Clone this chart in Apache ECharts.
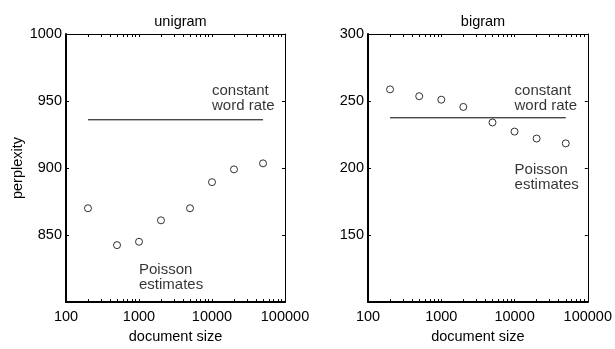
<!DOCTYPE html>
<html><head><meta charset="utf-8">
<script src="https://cdn.jsdelivr.net/npm/echarts@6/dist/echarts.min.js"></script>
<style>html,body{margin:0;padding:0;background:#fff}#c{width:615px;height:349px}</style>
</head><body><div id="c"></div>
<script>
const docSizes = [200, 500, 1000, 2000, 5000, 10000, 20000, 50000];
const unigramPoisson = [870, 842.5, 845, 861, 870, 889.5, 899, 903.5];
const unigramConstant = 936;
const bigramPoisson = [258.7, 253.6, 251, 245.6, 234, 227.2, 222, 218.4];
const bigramConstant = 237.5;
const xTickLabels = [100, 1000, 10000, 100000];
const unigramYTicks = [800, 850, 900, 950, 1000];
const bigramYTicks = [100, 150, 200, 250, 300];
const panelTitles = ['unigram', 'bigram'];
const xName = 'document size';
const yName = 'perplexity';
const noteConstant = 'constant\nword rate';
const notePoisson = 'Poisson\nestimates';
// annotation anchor points (data coordinates)
const unigramNotes = [[10000, 952, noteConstant], [1000, 818.5, notePoisson]];
const bigramNotes = [[10000, 252, noteConstant], [10000, 193, notePoisson]];

const FONT = 'Liberation Sans, Arial, Helvetica, sans-serif';
const minorVals = [];
for (let d = 100; d < 100000; d *= 10) for (let k = 1; k < 10; k++) minorVals.push(k * d);
minorVals.push(100000);

function xAxes(gi) {
  const base = {
    type: 'log', logBase: 10, gridIndex: gi,
    min: xTickLabels[0], max: xTickLabels[xTickLabels.length - 1],
    splitLine: {show: false},
    axisTick: {show: true, inside: true, length: 3, customValues: minorVals, lineStyle: {color: '#000', width: 1}},
  };
  return [
    Object.assign({}, base, {
      position: 'bottom',
      axisLine: {show: true, onZero: false, lineStyle: {color: '#000', width: 2}},
      axisLabel: {show: true, customValues: xTickLabels, color: '#000', fontFamily: FONT, fontSize: 14.5, margin: 7,
        formatter: v => String(Math.round(v))},
      name: xName, nameLocation: 'middle', nameGap: 22,
      nameTextStyle: {color: '#000', fontFamily: FONT, fontSize: 14.5}
    }),
    Object.assign({}, base, {
      position: 'top',
      axisLine: {show: true, onZero: false, lineStyle: {color: '#000', width: 1}},
      axisLabel: {show: false}
    })
  ];
}
function yAxes(gi, ticks, withName) {
  const base = {
    type: 'value', gridIndex: gi, min: ticks[0], max: ticks[ticks.length - 1],
    interval: ticks[1] - ticks[0],
    splitLine: {show: false},
    axisTick: {show: true, inside: true, length: 3, lineStyle: {color: '#000', width: 1}}
  };
  const left = Object.assign({}, base, {
    position: 'left',
    axisLine: {show: true, onZero: false, lineStyle: {color: '#000', width: 2}},
    axisLabel: {show: true, showMinLabel: false, color: '#000', fontFamily: FONT, fontSize: 14.5, margin: 4,
      formatter: v => String(Math.round(v))}
  });
  if (withName) Object.assign(left, {name: yName, nameLocation: 'middle', nameGap: 35,
    nameTextStyle: {color: '#000', fontFamily: FONT, fontSize: 14.5}});
  const right = Object.assign({}, base, {
    position: 'right',
    axisLine: {show: true, onZero: false, lineStyle: {color: '#000', width: 1}},
    axisLabel: {show: false}
  });
  return [left, right];
}
function panelSeries(gi, poisson, constant, notes) {
  return [
    {type: 'line', xAxisIndex: gi * 2, yAxisIndex: gi * 2, silent: true,
      data: [[docSizes[0], constant], [docSizes[docSizes.length - 1], constant]],
      showSymbol: false, symbol: 'none', lineStyle: {color: '#000', width: 1}},
    {type: 'scatter', xAxisIndex: gi * 2, yAxisIndex: gi * 2, silent: true,
      data: docSizes.map((x, i) => [x, poisson[i]]),
      symbol: 'circle', symbolSize: 7,
      itemStyle: {color: '#fff', borderColor: '#000', borderWidth: 1}},
    {type: 'scatter', xAxisIndex: gi * 2, yAxisIndex: gi * 2, silent: true,
      data: notes.map(n => ({value: [n[0], n[1]], label: {formatter: n[2]}})),
      symbolSize: 0,
      label: {show: true, position: 'right', distance: 0, align: 'left', verticalAlign: 'middle',
        color: '#000', fontFamily: FONT, fontSize: 15, lineHeight: 15}}
  ];
}

const chart = echarts.init(document.getElementById('c'), null, {renderer: 'canvas'});
chart.setOption({
  animation: false,
  backgroundColor: '#fff',
  title: [
    {text: panelTitles[0], left: 175.5, textAlign: 'center', top: 9,
      textStyle: {color: '#000', fontFamily: FONT, fontSize: 14.5, fontWeight: 'normal'}},
    {text: panelTitles[1], left: 478, textAlign: 'center', top: 9,
      textStyle: {color: '#000', fontFamily: FONT, fontSize: 14.5, fontWeight: 'normal'}}
  ],
  grid: [
    {left: 66, right: 330, top: 34, bottom: 42},
    {left: 368, right: 27, top: 34, bottom: 42}
  ],
  xAxis: [].concat(xAxes(0), xAxes(1)),
  yAxis: [].concat(yAxes(0, unigramYTicks, true), yAxes(1, bigramYTicks, false)),
  series: [].concat(
    panelSeries(0, unigramPoisson, unigramConstant, unigramNotes),
    panelSeries(1, bigramPoisson, bigramConstant, bigramNotes)
  )
});
</script></body></html>
